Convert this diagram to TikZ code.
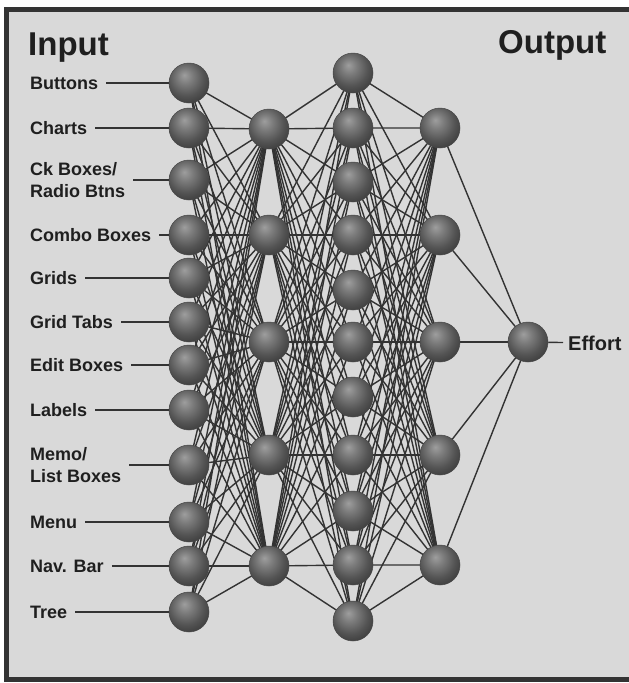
\documentclass[tikz,border=0pt]{standalone}
\usepackage{fontspec}
\setmainfont{Liberation Sans}
\usetikzlibrary{backgrounds}

% wires go between the panel and the units
\pgfdeclarelayer{wires}
\pgfsetlayers{background,wires,main}

\pgfdeclareradialshading{neuron}{\pgfpoint{-6bp}{10bp}}{%
  color(0bp)=(black!38); color(10bp)=(black!52); color(22bp)=(black!67);
  color(36bp)=(black!80); color(60bp)=(black!88)}

\colorlet{panel}{black!15}
\colorlet{wirecol}{black!80}
\colorlet{ink}{black!88}

\begin{document}
\begin{tikzpicture}[x=1pt,y=-1pt,
  unit/.style={circle,inner sep=0pt,minimum size=40pt,shading=neuron,draw=black!72,line width=0.5pt},
  lbl/.style={anchor=west,align=left,text=ink,inner sep=0pt,
    font=\bfseries\fontsize{18}{22}\selectfont},
  head/.style={anchor=base west,text=ink,inner sep=0pt,
    font=\bfseries\fontsize{33}{36}\selectfont},
  wire/.style={draw=wirecol,line width=1.4pt}]

  \useasboundingbox (0,0) rectangle (629,683);
  \begin{scope}[on background layer]
    \fill[white] (0,0) rectangle (629,683);
    \filldraw[fill=panel,draw=black!80,line width=5pt] (6.5,9.5) rectangle (645,679);
  \end{scope}

  \node[head] (inhead)  at (28,55)  {Input};
  \node[head] (outhead) at (498,53) {Output};

  % layers
  \foreach \y [count=\i] in {83,128,180,235,278,322,365,410,465,522,566,612}
    \node[unit] (i\i) at (189,\y) {};
  \foreach \y [count=\i] in {129,235,342,455,566}
    \node[unit] (a\i) at (269,\y) {};
  \foreach \y [count=\i] in {73,128,182,235,290,342,397,455,511,565,621}
    \node[unit] (b\i) at (353,\y) {};
  \foreach \y [count=\i] in {128,235,342,455,565}
    \node[unit] (c\i) at (440,\y) {};
  \node[unit] (out) at (528,342) {};

  % input names
  \foreach \t [count=\i] in {Buttons,Charts,{Ck Boxes/\\Radio Btns},Combo Boxes,Grids,
      Grid Tabs,Edit Boxes,Labels,{Memo/\\List Boxes},Menu,Nav. Bar,Tree}
  {
    \node[lbl] (l\i) at (30,0 |- i\i) {\t};
    \draw[wire,shorten <=8pt] (l\i) -- (i\i);
  }
  \node[lbl,font=\bfseries\fontsize{20}{24}\selectfont] (eff) at (568,343) {Effort};
  \draw[wire,shorten >=5pt] (out) -- (eff);

  \begin{pgfonlayer}{wires}
    \foreach \i in {1,...,12}
      \foreach \j in {1,...,5}
        \draw[wire] (i\i.center) -- (a\j.center);
    \foreach \i in {1,...,5}
      \foreach \j in {1,...,11}
        \draw[wire] (a\i.center) -- (b\j.center) (b\j.center) -- (c\i.center);
    \foreach \i in {1,...,5}
      \draw[wire] (c\i.center) -- (out.center);
  \end{pgfonlayer}
\end{tikzpicture}
\end{document}
